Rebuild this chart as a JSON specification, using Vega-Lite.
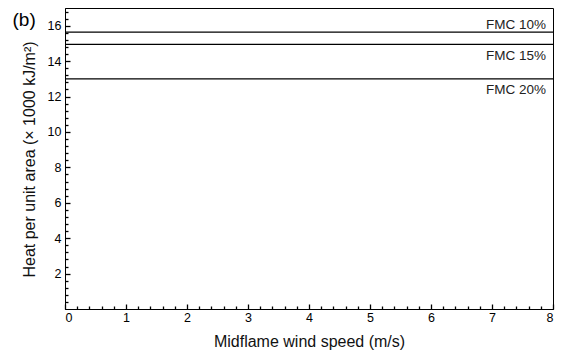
{
  "$schema": "https://vega.github.io/schema/vega-lite/v6.json",
  "width": 488,
  "height": 301,
  "autosize": {"type": "none"},
  "padding": {"left": 65, "top": 8, "right": 11, "bottom": 48},
  "config": {
    "font": "Liberation Sans",
    "view": {"stroke": "black", "strokeWidth": 1},
    "axis": {"grid": false, "domainColor": "black", "tickColor": "black", "labelColor": "black", "titleColor": "#111", "labelFont": "Liberation Sans", "titleFont": "Liberation Sans", "labelFontSize": 12.5, "titleFontSize": 16, "titleFontWeight": "normal"}
  },
  "datasets": {
    "lines": [
      {"fmc": "FMC 10%", "value": 15.64, "label_y": 16.02},
      {"fmc": "FMC 15%", "value": 14.95, "label_y": 14.3},
      {"fmc": "FMC 20%", "value": 13.0, "label_y": 12.38}
    ],
    "tag": [{"tag": "(b)", "tx": -0.86, "ty": 16.3}]
  },
  "resolve": {"axis": {"x": "independent", "y": "independent"}},
  "layer": [
    {
      "data": {"name": "lines"},
      "mark": {"type": "rule", "color": "black", "strokeWidth": 1.2},
      "encoding": {
        "y": {"field": "value", "type": "quantitative", "scale": {"domain": [0, 17], "nice": false}, "axis": {"orient": "left", "values": [2, 4, 6, 8, 10, 12, 14, 16], "tickSize": -5, "tickWidth": 1.3, "labelPadding": 9, "title": "Heat per unit area (× 1000 kJ/m²)", "titlePadding": 10, "titleY": 151}}
      }
    },
    {
      "data": {"name": "lines"},
      "mark": {"type": "text", "align": "right", "baseline": "middle", "dx": -7, "fontSize": 13.5, "color": "#222"},
      "encoding": {
        "x": {"datum": 8, "type": "quantitative", "scale": {"domain": [0, 8], "nice": false}, "axis": {"orient": "bottom", "format": "d", "values": [0, 1, 2, 3, 4, 5, 6, 7, 8], "tickSize": -5, "tickWidth": 1.3, "labelPadding": 7, "title": "Midflame wind speed (m/s)", "titlePadding": 10}},
        "y": {"field": "label_y", "type": "quantitative", "axis": null},
        "text": {"field": "fmc"}
      }
    },
    {
      "data": {"name": "lines"},
      "mark": {"type": "point", "opacity": 0},
      "encoding": {
        "x": {"datum": 0, "type": "quantitative", "axis": {"orient": "bottom", "values": [0.2,0.4,0.6,0.8,1.2,1.4,1.6,1.8,2.2,2.4,2.6,2.8,3.2,3.4,3.6,3.8,4.2,4.4,4.6,4.8,5.2,5.4,5.6,5.8,6.2,6.4,6.6,6.8,7.2,7.4,7.6,7.8], "tickSize": -3, "tickWidth": 1.3, "labels": false, "title": null, "domain": false}},
        "y": {"field": "value", "type": "quantitative", "axis": {"orient": "left", "values": [0.4,0.8,1.2,1.6,2.4,2.8,3.2,3.6,4.4,4.8,5.2,5.6,6.4,6.8,7.2,7.6,8.4,8.8,9.2,9.6,10.4,10.8,11.2,11.6,12.4,12.8,13.2,13.6,14.4,14.8,15.2,15.6,16.4,16.8], "tickSize": -3, "tickWidth": 1.3, "labels": false, "title": null, "domain": false}}
      }
    },
    {
      "data": {"name": "tag"},
      "mark": {"type": "text", "fontSize": 19, "align": "left", "baseline": "middle", "color": "black"},
      "encoding": {
        "x": {"field": "tx", "type": "quantitative", "axis": null},
        "y": {"field": "ty", "type": "quantitative", "axis": null},
        "text": {"field": "tag"}
      }
    }
  ]
}
